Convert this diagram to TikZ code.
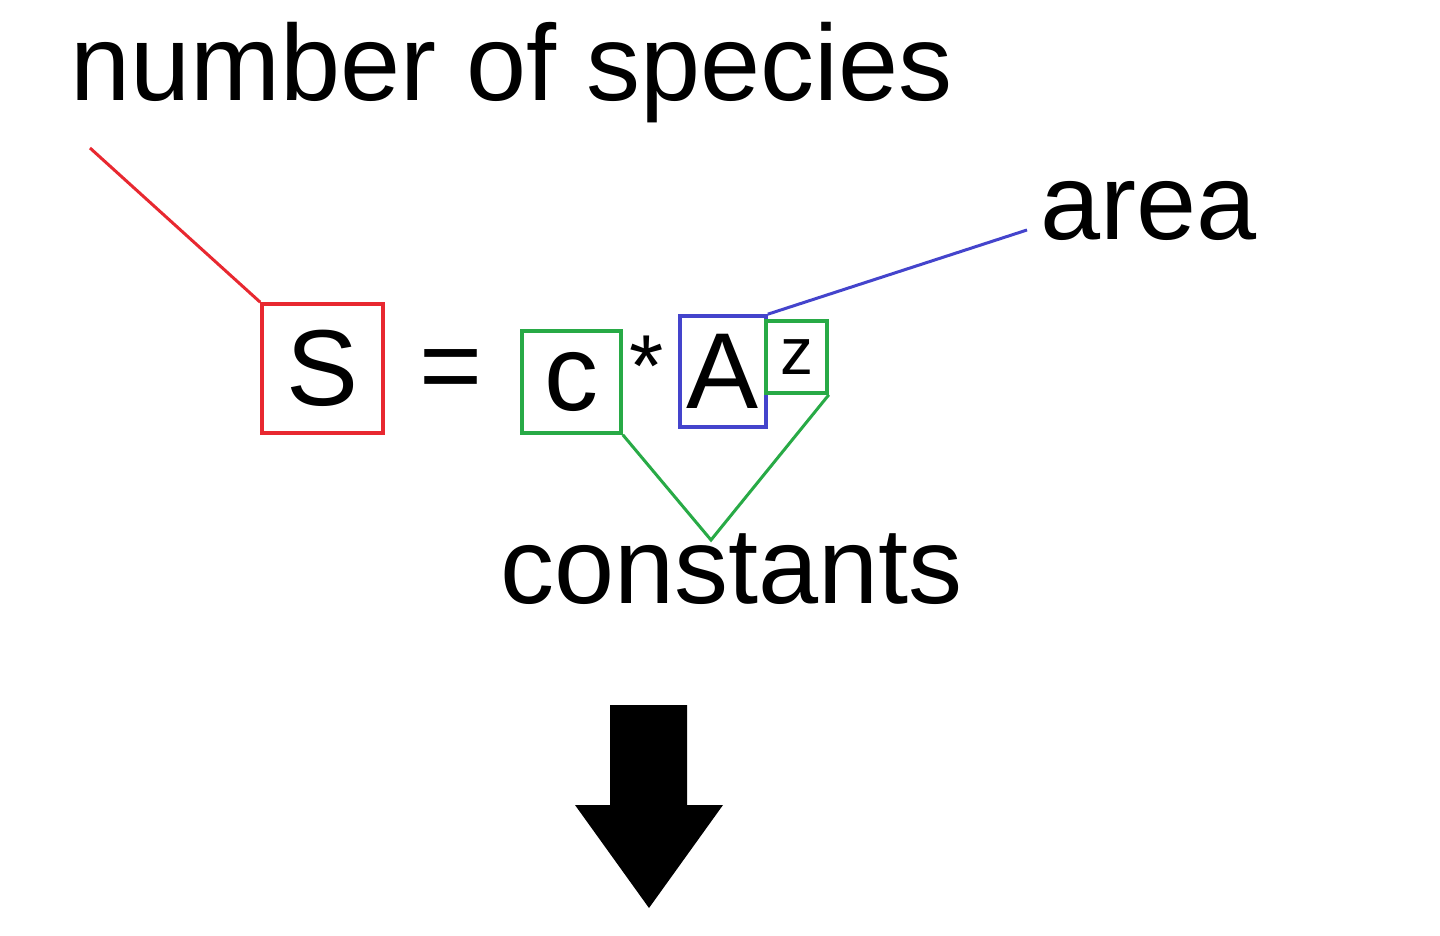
\documentclass[tikz,border=0pt]{standalone}
\usepackage{fontspec}
\setmainfont{Liberation Sans}
\begin{document}
\begin{tikzpicture}[x=0.5pt,y=-0.5pt,
  bigtext/.style={font=\fontsize{54}{60}\selectfont, inner sep=0pt},
  suptext/.style={font=\fontsize{33}{40}\selectfont, inner sep=0pt},
  startext/.style={font=\fontsize{44}{50}\selectfont, inner sep=0pt},
  redc/.style={draw={rgb,255:red,232;green,40;blue,48}, line width=1.8pt},
  greenc/.style={draw={rgb,255:red,40;green,170;blue,70}, line width=1.8pt},
  bluec/.style={draw={rgb,255:red,68;green,68;blue,204}, line width=1.8pt}]
\useasboundingbox[fill=white] (0,0) rectangle (1440,936);
% labels
\node[bigtext, anchor=base west] (species) at (70,101) {number of species};
\node[bigtext, anchor=base west] (area) at (1040,240) {area};
\node[bigtext, anchor=base west] (constants) at (500,603) {constants};
% equation boxes
\node[bigtext, redc, minimum width=60.5pt, minimum height=64.5pt] (S) at (322.5,368.5) {S};
\node[bigtext] (eq) at (451,376) {=};
\node[bigtext, greenc, minimum width=49.5pt, minimum height=51pt] (c) at (571.5,382) {c};
\node[startext, anchor=north] (star) at (647,336) {*};
\node[bigtext, bluec, minimum width=43pt, minimum height=55.5pt] (A) at (723,371.5) {A};
\node[suptext, greenc, minimum width=30.5pt, minimum height=36pt] (z) at (796.5,357) {z};
% connector end points
\coordinate (redend) at (90,148);
\coordinate (blueend) at (1027,230);
\coordinate (greentip) at (711,540);
% connectors
\draw[redc, line width=1.5pt] (redend) -- (S.north west);
\draw[bluec, line width=1.5pt] (A.north east) -- (blueend);
\draw[greenc, line width=1.5pt] (c.south east) -- (greentip) -- (z.south east);
% big arrow
\fill[black] (610,705) -- (687,705) -- (687,805) -- (723,805) -- (649,908) -- (575,805) -- (610,805) -- cycle;
\end{tikzpicture}
\end{document}
